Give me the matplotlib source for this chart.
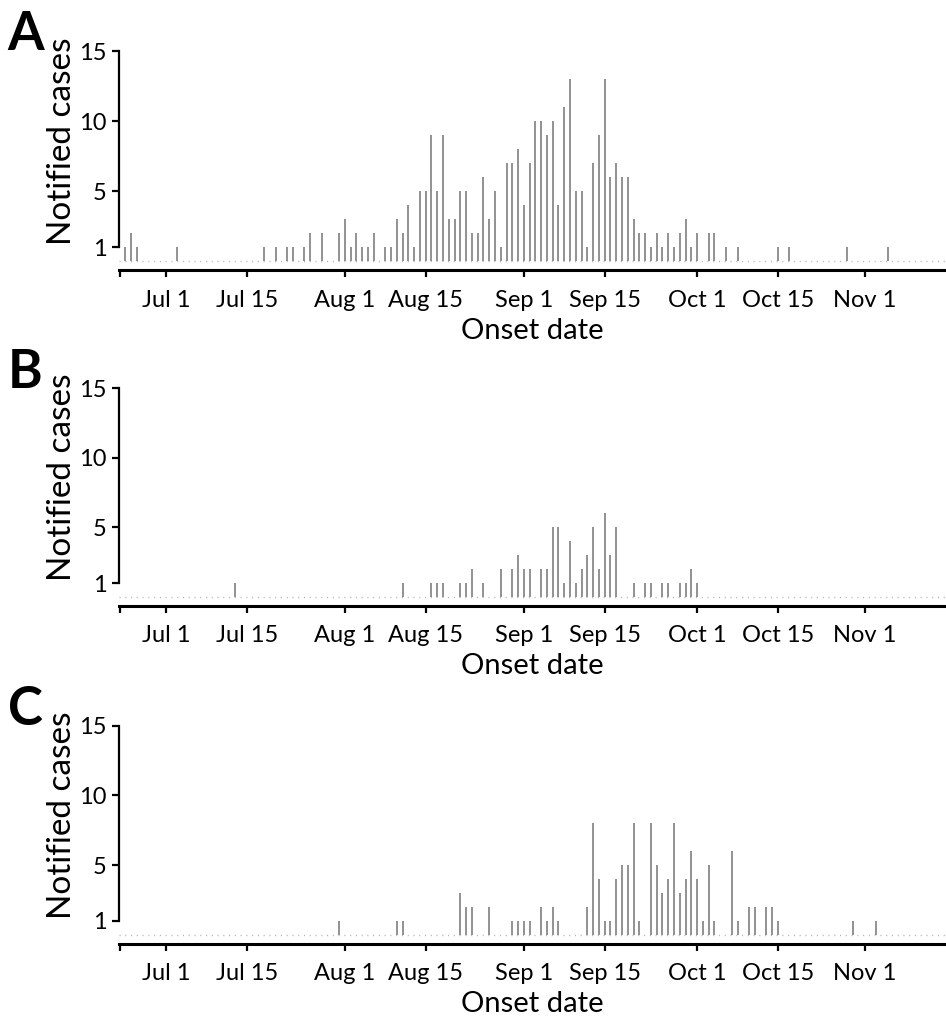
import pandas as pd
import matplotlib
matplotlib.use('Agg')
import matplotlib.pyplot as plt

plt.rcParams['font.family'] = ['Lato', 'DejaVu Sans']

# onset dates with at least one notified case, and the counts per panel
a_dates = ['06-24', '06-25', '06-26', '07-03', '07-18', '07-20', '07-22', '07-23', '07-25', '07-26',
           '07-28', '07-31', '08-01', '08-02', '08-03', '08-04', '08-05', '08-06', '08-08', '08-09',
           '08-10', '08-11', '08-12', '08-13', '08-14', '08-15', '08-16', '08-17', '08-18', '08-19',
           '08-20', '08-21', '08-22', '08-23', '08-24', '08-25', '08-26', '08-27', '08-28', '08-29',
           '08-30', '08-31', '09-01', '09-02', '09-03', '09-04', '09-05', '09-06', '09-07', '09-08',
           '09-09', '09-10', '09-11', '09-12', '09-13', '09-14', '09-15', '09-16', '09-17', '09-18',
           '09-19', '09-20', '09-21', '09-22', '09-23', '09-24', '09-25', '09-26', '09-27', '09-28',
           '09-29', '09-30', '10-01', '10-03', '10-04', '10-06', '10-08', '10-15', '10-17', '10-27',
           '11-03']
a_counts = [1, 2, 1, 1, 1, 1, 1, 1, 1, 2,
            2, 2, 3, 1, 2, 1, 1, 2, 1, 1,
            3, 2, 4, 1, 5, 5, 9, 5, 9, 3,
            3, 5, 5, 2, 2, 6, 3, 5, 1, 7,
            7, 8, 4, 7, 10, 10, 9, 10, 4, 11,
            13, 5, 5, 1, 7, 9, 13, 6, 7, 6,
            6, 3, 2, 2, 1, 2, 1, 2, 1, 2,
            3, 1, 2, 2, 2, 1, 1, 1, 1, 1,
            1]

b_dates = ['07-13', '08-11', '08-16', '08-17', '08-18', '08-21', '08-22', '08-23', '08-25', '08-28',
           '08-30', '08-31', '09-01', '09-02', '09-04', '09-05', '09-06', '09-07', '09-08', '09-09',
           '09-10', '09-11', '09-12', '09-13', '09-14', '09-15', '09-16', '09-17', '09-20', '09-22',
           '09-23', '09-25', '09-26', '09-28', '09-29', '09-30', '10-01']
b_counts = [1, 1, 1, 1, 1, 1, 1, 2, 1, 2,
            2, 3, 2, 2, 2, 2, 5, 5, 1, 4,
            1, 2, 3, 5, 2, 6, 3, 5, 1, 1,
            1, 1, 1, 1, 1, 2, 1]

c_dates = ['07-31', '08-10', '08-11', '08-21', '08-22', '08-23', '08-26', '08-30', '08-31', '09-01',
           '09-02', '09-04', '09-05', '09-06', '09-07', '09-12', '09-13', '09-14', '09-15', '09-16',
           '09-17', '09-18', '09-19', '09-20', '09-21', '09-23', '09-24', '09-25', '09-26', '09-27',
           '09-28', '09-29', '09-30', '10-01', '10-02', '10-03', '10-04', '10-07', '10-08', '10-10',
           '10-11', '10-13', '10-14', '10-15', '10-28', '11-01']
c_counts = [1, 1, 1, 3, 2, 2, 2, 1, 1, 1,
            1, 2, 1, 2, 1, 2, 8, 4, 1, 1,
            4, 5, 5, 8, 1, 8, 5, 3, 4, 8,
            3, 4, 6, 4, 1, 5, 1, 6, 1, 2,
            2, 2, 2, 1, 1, 1]

# x ticks as drawn in the source (its "Nov 1" tick sits two days early)
tick_dates = ['06-23', '07-01', '07-15', '08-01', '08-15', '09-01', '09-15', '10-01', '10-15', '10-30']
tick_labels = ['', 'Jul 1', 'Jul 15', 'Aug 1', 'Aug 15', 'Sep 1', 'Sep 15', 'Oct 1', 'Oct 15', 'Nov 1']
y_ticks = [1, 5, 10, 15]

origin = pd.Timestamp('2019-07-01')


def day_no(dates):
    return [(pd.Timestamp('2019-' + d) - origin).days for d in dates]


fig = plt.figure(figsize=(9.46, 10.18), dpi=100)

panels = [('A', a_dates, a_counts, 0.7343, 0.9499),
          ('B', b_dates, b_counts, 0.4047, 0.6186),
          ('C', c_dates, c_counts, 0.0727, 0.2871)]

for letter, dates, counts, bottom, top in panels:
    ax = fig.add_axes([0.1258, bottom, 1 - 0.1258, top - bottom])
    x_lo = day_no(tick_dates[:1])[0] - 0.1
    x_hi = 135.1
    # zero baseline, one faint dot per day
    ax.plot([x_lo, x_hi], [0, 0], color='#b5b5b5', lw=1.0, linestyle=(0, (0.8, 3.35)))
    ax.vlines(day_no(dates), 0, counts, color='#7a7a7a', lw=1.15)

    ax.set_xlim(x_lo, x_hi)
    ax.set_ylim(-0.65, 15)
    ax.set_xticks(day_no(tick_dates))
    ax.set_xticklabels(tick_labels)
    ax.set_yticks(y_ticks)

    for side in ['top', 'right']:
        ax.spines[side].set_visible(False)
    ax.spines['left'].set_bounds(1, 15)
    ax.spines['left'].set_linewidth(1.6)
    ax.spines['bottom'].set_linewidth(2.2)
    ax.tick_params(axis='both', direction='out', length=5, width=1.6, labelsize=17, pad=4)
    ax.tick_params(axis='x', pad=9)

    ax.set_ylabel('Notified cases', fontsize=24, va='center')
    ax.yaxis.set_label_coords(-0.069, 0.59)
    ax.set_xlabel('Onset date', fontsize=21, labelpad=5)

    fig.text(0.008, top + 0.040, letter, fontsize=38, fontweight='bold', va='top', ha='left')

fig.savefig('out.png', dpi=100)
